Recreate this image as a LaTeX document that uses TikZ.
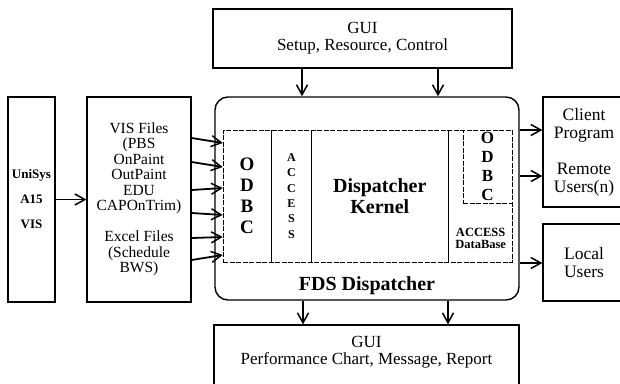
\documentclass[tikz,border=0pt]{standalone}
\usepackage{fontspec}
\setmainfont{Liberation Serif}
\usetikzlibrary{arrows.meta, positioning, calc}

\begin{document}
\begin{tikzpicture}[
    x=1pt, y=-1pt,
    node distance=0pt,
    box/.style={draw, rectangle, line width=1.2pt, inner sep=0pt, align=center},
    guibox/.style={box, font=\fontsize{17}{17}\selectfont},
    srcbox/.style={box, minimum height=205pt},
    outbox/.style={box, minimum width=82pt, font=\fontsize{17.5}{18}\selectfont},
    dispatcher/.style={box, rounded corners=13pt, line width=1.4pt, minimum width=304pt, minimum height=203pt},
    dashbox/.style={draw, rectangle, line width=0.5pt, dash pattern=on 5pt off 1.5pt, inner sep=0pt, align=center},
    column/.style={rectangle, inner sep=0pt, minimum height=132pt, align=center},
    divider/.style={line width=0.6pt},
    letters/.style={font=\fontsize{19}{21}\selectfont\bfseries},
    arrow/.style={-{Straight Barb[length=10pt,width=11pt,line width=1.5pt]}, line width=1.8pt}
]

\useasboundingbox (0,0) rectangle (620,383);

% Sources
\node[srcbox, minimum width=47pt, font=\fontsize{13}{25}\selectfont\bfseries] (unisys) at (31.5,199.5) {UniSys\\A15\\VIS};
\node[srcbox, minimum width=104pt, font=\fontsize{15.5}{15.5}\selectfont] (visfiles) at (139,199.5) {VIS Files\\(PBS\\OnPaint\\OutPaint\\EDU\\CAPOnTrim)\\[15.5pt]Excel Files\\(Schedule\\BWS)};

% GUI boxes
\node[guibox, minimum width=299pt, minimum height=59pt] (gui_top) at (362.5,38.5) {GUI\\Setup, Resource, Control};
\node[box, minimum width=305pt, minimum height=70pt] (gui_bot) at (366.5,360) {};
\node[below=12pt of gui_bot.north, align=center, inner sep=0pt, font=\fontsize{17}{17}\selectfont] (gui_bot_text) {GUI\\Performance Chart, Message, Report};

% Dispatcher
\node[dispatcher] (main) at (367,198.5) {};
\node[dashbox, minimum width=289pt, minimum height=132pt] (inner) at (367.5,196) {};
\node[column, letters, minimum width=48pt, anchor=north west] (odbc) at (inner.north west) {O\\D\\B\\C};
\node[column, minimum width=40pt, right=0pt of odbc, font=\fontsize{12}{15.4}\selectfont\bfseries] (access) {A\\C\\C\\E\\S\\S};
\node[column, minimum width=136pt, right=0pt of access, font=\fontsize{20}{21}\selectfont\bfseries] (kernel) {Dispatcher\\Kernel};
\node[column, minimum width=65pt, right=0pt of kernel] (dbcol) {};
\node[dashbox, minimum width=49pt, minimum height=73pt, anchor=north east, font=\fontsize{17}{19}\selectfont\bfseries] (odbc_db) at (inner.north east) {O\\D\\B\\C};
\node[above=13pt of dbcol.south, inner sep=0pt, align=center, font=\fontsize{12.5}{12.5}\selectfont\bfseries] (accessdb) {ACCESS\\DataBase};
\node[above=6pt of main.south, inner sep=0pt, font=\fontsize{20}{20}\selectfont\bfseries] (fds) {FDS Dispatcher};

\draw[divider] (odbc.north east) -- (odbc.south east);
\draw[divider] (access.north east) -- (access.south east);
\draw[divider] (kernel.north east) -- (kernel.south east);

% Users
\node[outbox, minimum height=110pt] (client) at (584,152) {Client\\Program\\[18pt]Remote\\Users(n)};
\node[outbox, minimum height=77pt] (local) at (584,262.5) {Local\\Users};

% Connections
\draw[arrow] (unisys) -- (visfiles);
\foreach \a/\b in {61.5/53, 37.5/29, 9.5/8, -13.5/-19, -38.5/-41, -60.5/-59}
  \draw[arrow] ([yshift=\a pt]visfiles.east) -- ([yshift=\b pt]inner.west);
\foreach \dx in {-60.5, 75.5}
  \draw[arrow] ([xshift=\dx pt]gui_top.south) -- ([xshift=\dx pt]gui_top.south |- main.north);
\foreach \dx in {-64, 81}
  \draw[arrow] ([xshift=\dx pt]main.south) -- ([xshift=\dx pt]main.south |- gui_bot.north);
\foreach \dy in {68.5, 22.5}
  \draw[arrow] ([yshift=\dy pt]main.east) -- ([yshift=\dy pt]main.east -| client.west);
\draw[arrow] ([yshift=-64.5pt]main.east) -- ([yshift=-64.5pt]main.east -| local.west);

\end{tikzpicture}
\end{document}
